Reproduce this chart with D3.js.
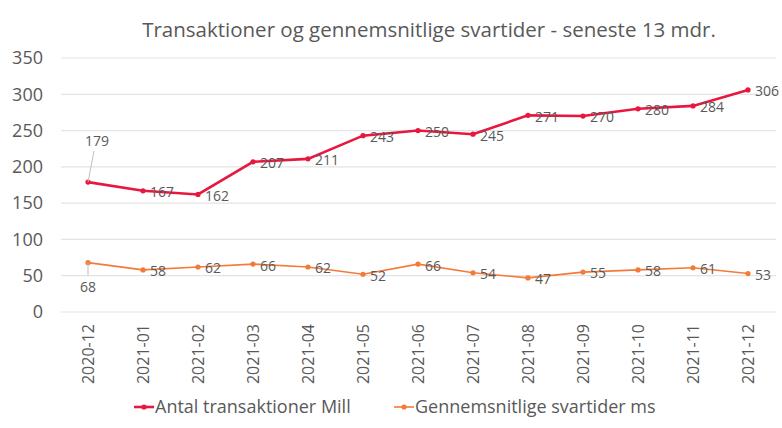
<!DOCTYPE html>
<html><head><meta charset="utf-8">
<script src="https://cdn.jsdelivr.net/npm/d3@7"></script>
<style>body{margin:0;background:#fff;} text{font-family:"Open Sans",sans-serif;}</style>
</head><body>
<svg id="c" width="782" height="428"></svg>
<script>
const months = ["2020-12","2021-01","2021-02","2021-03","2021-04","2021-05","2021-06","2021-07","2021-08","2021-09","2021-10","2021-11","2021-12"];
const transaktioner = [179,167,162,207,211,243,250,245,271,270,280,284,306];
const svartider = [68,58,62,66,62,52,66,54,47,55,58,61,53];
const yTicks = [0,50,100,150,200,250,300,350];
const seriesNames = ["Antal transaktioner Mill","Gennemsnitlige svartider ms"];
const colors = ["#e8173f","#f47a3a"];

const svg = d3.select("#c");
const x = d3.scaleBand().domain(months).range([60.5, 775.5]);
const y = d3.scaleLinear().domain([0,350]).range([312, 58]);
const cx = d => x(d) + x.bandwidth()/2;
const grey = "#595959";

svg.append("text").attr("x",429).attr("y",37).attr("text-anchor","middle")
  .attr("fill",grey).attr("font-size",20.5).text("Transaktioner og gennemsnitlige svartider - seneste 13 mdr.");

// grid
svg.append("g").selectAll("line").data(yTicks).join("line")
  .attr("x1",61).attr("x2",776).attr("y1",d=>y(d)).attr("y2",d=>y(d))
  .attr("stroke","#e3e3e3").attr("stroke-width",1.2);

// y axis labels
const ya = svg.append("g").attr("transform","translate(43,0)")
  .call(d3.axisLeft(y).tickValues(yTicks).tickSize(0).tickPadding(0));
ya.select(".domain").remove();
ya.selectAll("text").attr("fill",grey).attr("font-size",18).attr("font-family","Open Sans, sans-serif");

// x axis labels
const xa = svg.append("g").attr("transform","translate(0,324)")
  .call(d3.axisBottom(x).tickSize(0).tickPadding(0));
xa.select(".domain").remove();
xa.selectAll("text").attr("fill",grey).attr("font-size",16).attr("font-family","Open Sans, sans-serif")
  .attr("transform","rotate(-90)").attr("text-anchor","end").attr("dx",0).attr("dy","0.35em").attr("x",0).attr("y",0);

function series(vals, color, width){
  const data = months.map((m,k)=>({m, v: vals[k]}));
  const line = d3.line().x(d=>cx(d.m)).y(d=>y(d.v));
  svg.append("path").datum(data).attr("d",line).attr("fill","none").attr("stroke",color).attr("stroke-width",width);
  svg.append("g").selectAll("circle").data(data).join("circle")
    .attr("cx",d=>cx(d.m)).attr("cy",d=>y(d.v)).attr("r",2.6).attr("fill",color);
  return data;
}
const d1 = series(transaktioner, colors[0], 2.6);
const d2 = series(svartider, colors[1], 1.6);

function labels(data, special){
  const g = svg.append("g");
  data.forEach((d,k)=>{
    const px = cx(d.m), py = y(d.v);
    if (k===0) {
      const up = special==="up";
      g.append("line").attr("x1",px).attr("y1",py).attr("x2",px+(up?6:0)).attr("y2",up?py-31:py+13)
        .attr("stroke","#bfbfbf").attr("stroke-width",1);
      g.append("text").attr("x",px+(up?9:0)).attr("y",up?py-41:py+24).attr("dy","0.35em").attr("text-anchor","middle")
        .attr("fill",grey).attr("font-size",14).text(d.v);
    } else {
      g.append("text").attr("x",px+7).attr("y",py+1.5).attr("dy","0.35em")
        .attr("fill",grey).attr("font-size",14).text(d.v);
    }
  });
}
labels(d1,"up");
labels(d2,"down");

// legend
const leg = [[134, seriesNames[0]], [394, seriesNames[1]]];
leg.forEach(([lx,name],i)=>{
  const g = svg.append("g");
  g.append("line").attr("x1",lx).attr("x2",lx+20).attr("y1",407).attr("y2",407).attr("stroke",colors[i]).attr("stroke-width",i?1.6:2.6);
  g.append("circle").attr("cx",lx+10).attr("cy",407).attr("r",2.6).attr("fill",colors[i]);
  g.append("text").attr("x",lx+21).attr("y",407).attr("dy","0.35em").attr("fill",grey).attr("font-size",18).text(name);
});
</script>
</body></html>
